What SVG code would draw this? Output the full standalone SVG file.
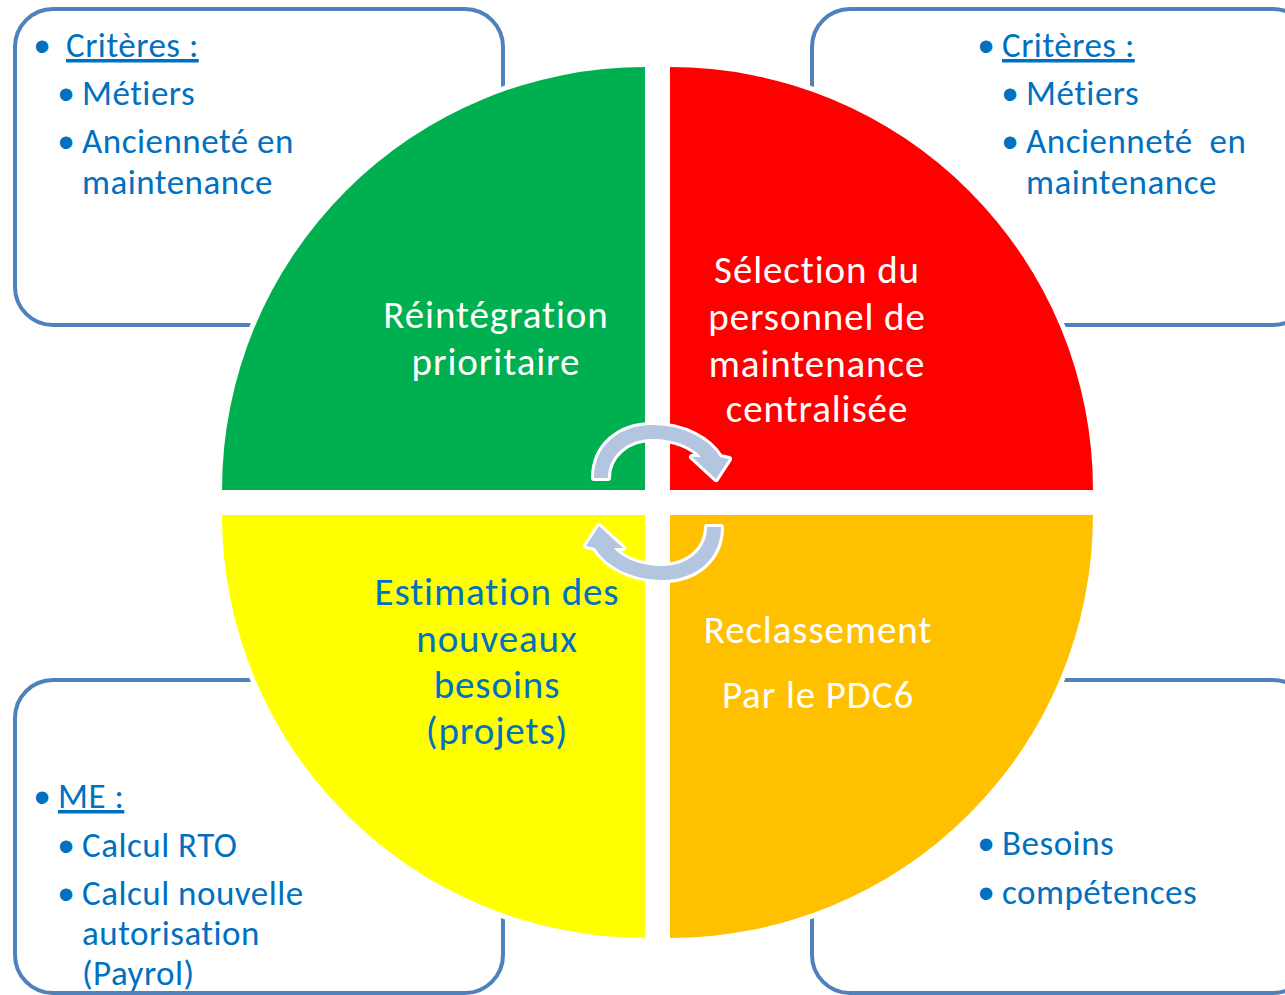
<svg xmlns="http://www.w3.org/2000/svg" width="1285" height="995" viewBox="0 0 1285 995">
<defs>
<style>
.box{fill:#fff;stroke:#4F81BD;stroke-width:4}
.q{stroke:#fff;stroke-width:10;paint-order:stroke fill;stroke-linejoin:miter}
.t{font-family:Carlito,Calibri,Lato,sans-serif;font-size:35px;letter-spacing:0.5px;fill:#0070C0;font-variant-ligatures:none}
.b{font-family:"Liberation Sans",Arial,sans-serif;font-size:46px;fill:#0070C0;text-anchor:middle}
.c{font-family:Carlito,Calibri,Lato,sans-serif;font-size:39px;letter-spacing:0.9px;text-anchor:middle;font-variant-ligatures:none}
.w{fill:#fff}
.bl{fill:#0070C0}
.u{text-decoration:underline}
.arr{fill:#B4C5DF;stroke:#fff;stroke-width:6;paint-order:stroke fill;stroke-linejoin:round}
</style>
<path id="arrow" class="arr" d="M594,478 C594,445 620,425 652,425 C685,425 710,440 720,457 L729,459 L716,479 L692,457 L701,457 C693,447 675,439 652,439 C628,439 608,455 608,478 Z"/>
</defs>
<g id="box-top-left">
<rect class="box" x="15" y="9" width="488" height="316" rx="38"/>
<text class="b" x="42" y="62">•</text>
<text class="t u" x="66" y="57">Critères :</text>
<text class="b" x="66" y="110">•</text>
<text class="t" x="82" y="105">Métiers</text>
<text class="b" x="66" y="158">•</text>
<text class="t" x="82" y="153">Ancienneté en</text>
<text class="t" x="82" y="194">maintenance</text>
</g>
<g id="box-top-right">
<rect class="box" x="812" y="9" width="499" height="316" rx="38"/>
<text class="b" x="986" y="62">•</text>
<text class="t u" x="1002" y="57">Critères :</text>
<text class="b" x="1010" y="110">•</text>
<text class="t" x="1026" y="105">Métiers</text>
<text class="b" x="1010" y="158">•</text>
<text class="t" x="1026" y="153" style="white-space:pre">Ancienneté  en</text>
<text class="t" x="1026" y="194">maintenance</text>
</g>
<g id="box-bottom-left">
<rect class="box" x="15" y="680" width="488" height="313" rx="38"/>
<text class="b" x="42" y="813">•</text>
<text class="t u" x="58" y="808">ME :</text>
<text class="b" x="66" y="862">•</text>
<text class="t" x="82" y="857">Calcul RTO</text>
<text class="b" x="66" y="910">•</text>
<text class="t" x="82" y="905">Calcul nouvelle</text>
<text class="t" x="82" y="945">autorisation</text>
<text class="t" x="82" y="985">(Payrol)</text>
</g>
<g id="box-bottom-right">
<rect class="box" x="812" y="680" width="499" height="313" rx="38"/>
<text class="b" x="986" y="860">•</text>
<text class="t" x="1002" y="855">Besoins</text>
<text class="b" x="986" y="909">•</text>
<text class="t" x="1002" y="904">compétences</text>
</g>
<g id="q-green">
<path class="q" fill="#00B050" d="M645,490 L222,490 A423,423 0 0 1 645,67 Z"/>
<text class="c w" x="496" y="328">Réintégration</text>
<text class="c w" x="496" y="375">prioritaire</text>
</g>
<g id="q-red">
<path class="q" fill="#FF0000" d="M670,490 L670,67 A423,423 0 0 1 1093,490 Z"/>
<text class="c w" x="817" y="283">Sélection du</text>
<text class="c w" x="817" y="330">personnel de</text>
<text class="c w" x="817" y="377">maintenance</text>
<text class="c w" x="817" y="422">centralisée</text>
</g>
<g id="q-yellow">
<path class="q" fill="#FFFF00" d="M645,515 L645,938 A423,423 0 0 1 222,515 Z"/>
<text class="c bl" x="497" y="605">Estimation des</text>
<text class="c bl" x="497" y="652">nouveaux</text>
<text class="c bl" x="497" y="698">besoins</text>
<text class="c bl" x="497" y="744">(projets)</text>
</g>
<g id="q-orange">
<path class="q" fill="#FFC000" d="M670,515 L1093,515 A423,423 0 0 1 670,938 Z"/>
<text class="c w" x="818" y="643">Reclassement</text>
<text class="c w" x="818" y="708">Par le PDC6</text>
</g>
<g id="connectors">
<use href="#arrow"/>
<use href="#arrow" transform="rotate(180 657.5 502.5)"/>
</g>
</svg>
